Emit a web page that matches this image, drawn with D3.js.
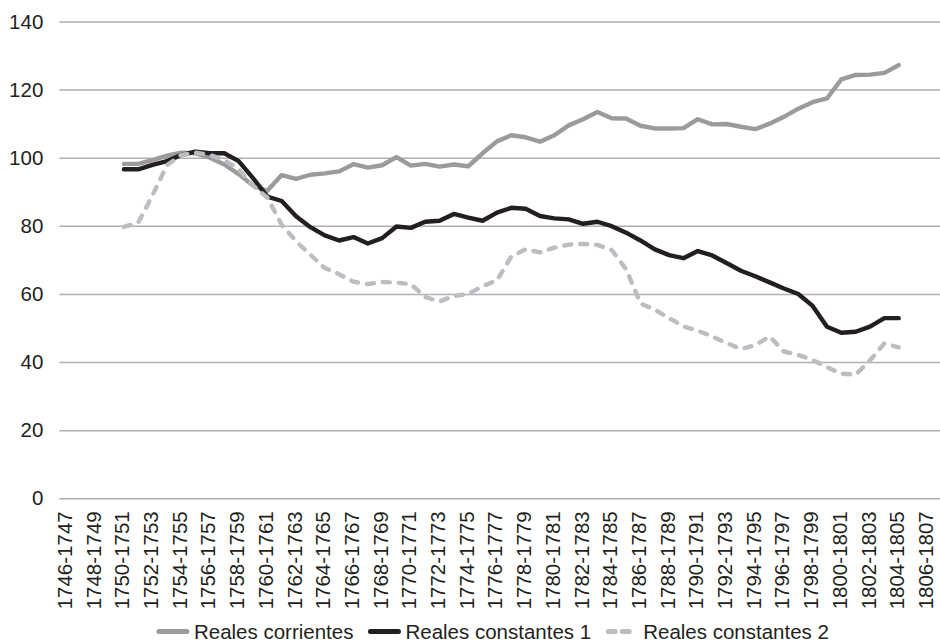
<!DOCTYPE html>
<html>
<head>
<meta charset="utf-8">
<script src="https://cdn.jsdelivr.net/npm/d3@7"></script>
<style>
  body { margin: 0; background: #fff; }
  text { font-family: "Liberation Sans", Arial, sans-serif; fill: #231f20; }
</style>
</head>
<body>
<svg id="chart"></svg>
<script>
// categories (one per fiscal year)
const categories = [
  "1746-1747","1747-1748","1748-1749","1749-1750","1750-1751","1751-1752","1752-1753","1753-1754",
  "1754-1755","1755-1756","1756-1757","1757-1758","1758-1759","1759-1760","1760-1761","1761-1762",
  "1762-1763","1763-1764","1764-1765","1765-1766","1766-1767","1767-1768","1768-1769","1769-1770",
  "1770-1771","1771-1772","1772-1773","1773-1774","1774-1775","1775-1776","1776-1777","1777-1778",
  "1778-1779","1779-1780","1780-1781","1781-1782","1782-1783","1783-1784","1784-1785","1785-1786",
  "1786-1787","1787-1788","1788-1789","1789-1790","1790-1791","1791-1792","1792-1793","1793-1794",
  "1794-1795","1795-1796","1796-1797","1797-1798","1798-1799","1799-1800","1800-1801","1801-1802",
  "1802-1803","1803-1804","1804-1805","1805-1806","1806-1807"
];

// series values, null = no data
const realesCorrientes = [
  null, null, null, null, 98.2, 98.2, 99.3, 100.6,
  101.5, 101.3, 100.0, 98.0, 95.2, 91.8, 90.3, 94.9,
  93.8, 95.0, 95.4, 96.0, 98.1, 97.1, 97.8, 100.2,
  97.7, 98.2, 97.4, 98.0, 97.5, 101.3, 104.8, 106.6,
  106.0, 104.7, 106.6, 109.5, 111.3, 113.4, 111.6, 111.5,
  109.4, 108.6, 108.6, 108.7, 111.3, 109.8, 109.9, 109.1,
  108.4, 110.0, 112.0, 114.4, 116.3, 117.4, 123.0, 124.3,
  124.4, 124.9, 127.2, null, null
];
const realesConstantes1 = [
  null, null, null, null, 96.6, 96.6, 97.9, 99.0,
  100.8, 101.8, 101.3, 101.3, 99.0, 94.0, 88.6, 87.3,
  82.8, 79.6, 77.2, 75.7, 76.7, 74.8, 76.4, 79.8,
  79.4, 81.2, 81.5, 83.5, 82.4, 81.5, 83.9, 85.3,
  85.0, 82.9, 82.2, 81.9, 80.6, 81.2, 79.9, 78.0,
  75.7, 73.1, 71.4, 70.5, 72.6, 71.3, 69.1, 66.8,
  65.2, 63.4, 61.6, 60.0, 56.5, 50.4, 48.6, 48.9,
  50.4, 52.9, 52.9, null, null
];
const realesConstantes2 = [
  null, null, null, null, 79.7, 80.9, 89.0, 97.8,
  100.8, 101.5, 100.8, 99.3, 96.6, 91.8, 88.3, 80.3,
  75.5, 71.5, 67.6, 65.8, 63.6, 62.9, 63.5, 63.3,
  62.9, 59.1, 57.8, 59.4, 60.0, 62.3, 64.0, 71.0,
  73.1, 72.2, 73.6, 74.5, 74.7, 74.4, 72.9, 67.3,
  57.2, 55.4, 52.9, 50.5, 49.2, 47.5, 45.6, 43.8,
  45.0, 47.5, 43.1, 42.1, 40.6, 38.5, 36.6, 36.3,
  40.5, 45.5, 44.3, null, null
];

const yTicks = [0, 20, 40, 60, 80, 100, 120, 140];
const seriesNames = ["Reales corrientes", "Reales constantes 1", "Reales constantes 2"];

const width = 940, height = 644;
const margin = { top: 21.5, right: 5.4, bottom: 145.7, left: 59.3 };
const fontSize = 20.5;

const series = [
  { name: seriesNames[0], values: realesCorrientes, color: "#9b9b9d", dash: null },
  { name: seriesNames[1], values: realesConstantes1, color: "#231f20", dash: null },
  { name: seriesNames[2], values: realesConstantes2, color: "#bcbdc0", dash: "7,9" }
];

const svg = d3.select("#chart")
  .attr("width", width)
  .attr("height", height);

const x = d3.scalePoint()
  .domain(categories)
  .range([margin.left, width - margin.right])
  .padding(0.5);

const y = d3.scaleLinear()
  .domain([0, 140])
  .range([height - margin.bottom, margin.top]);

// horizontal gridlines + y labels
const yAxis = d3.axisLeft(y)
  .tickValues(yTicks)
  .tickSize(-(width - margin.left))
  .tickPadding(16);

const yAxisG = svg.append("g")
  .attr("transform", `translate(${margin.left},0)`)
  .call(yAxis);
yAxisG.select(".domain").remove();
yAxisG.selectAll(".tick line")
  .attr("stroke", "#b1b1b3")
  .attr("stroke-width", 1.5);
yAxisG.selectAll(".tick text")
  .attr("font-size", fontSize)
  .attr("fill", "#231f20");

// x labels, every other category, rotated
const xAxis = d3.axisBottom(x)
  .tickValues(categories.filter((d, i) => i % 2 === 0))
  .tickSize(0);

const xAxisG = svg.append("g")
  .attr("transform", `translate(0,${y(0)})`)
  .call(xAxis);
xAxisG.select(".domain").remove();
xAxisG.selectAll(".tick text")
  .attr("font-size", fontSize)
  .attr("fill", "#231f20")
  .attr("text-anchor", "end")
  .attr("transform", "rotate(-90)")
  .attr("x", -13)
  .attr("y", -2)
  .attr("dy", "0.34em");

// lines
const line = d3.line()
  .defined(d => d.v !== null)
  .x(d => x(d.c))
  .y(d => y(d.v));

svg.append("g")
  .selectAll("path")
  .data(series)
  .join("path")
  .attr("fill", "none")
  .attr("stroke", d => d.color)
  .attr("stroke-width", 4.4)
  .attr("stroke-linejoin", "round")
  .attr("stroke-linecap", "round")
  .attr("stroke-dasharray", d => d.dash)
  .attr("d", d => line(d.values.map((v, i) => ({ c: categories[i], v: v }))));

// legend
const legend = svg.append("g");
const legendY = 631.5;
const items = legend.selectAll("g")
  .data(series)
  .join("g");

items.append("line")
  .attr("x1", 0).attr("x2", 28)
  .attr("y1", 0).attr("y2", 0)
  .attr("stroke", d => d.color)
  .attr("stroke-width", 5)
  .attr("stroke-linecap", "round")
  .attr("stroke-dasharray", d => d.dash ? "7,7" : null);

items.append("text")
  .attr("x", 35)
  .attr("y", 0)
  .attr("dy", "0.35em")
  .attr("font-size", fontSize)
  .text(d => d.name);

// lay out legend items side by side, centered under the chart
let offset = 0;
const widths = [];
items.each(function () {
  widths.push(this.getBBox().width);
});
const gap = 17;
const total = d3.sum(widths) + gap * (widths.length - 1);
let start = (margin.left + width - margin.right) / 2 - total / 2 - 3;
items.attr("transform", (d, i) => {
  const tx = start + offset;
  offset += widths[i] + gap;
  return `translate(${tx},${legendY})`;
});
</script>
</body>
</html>
